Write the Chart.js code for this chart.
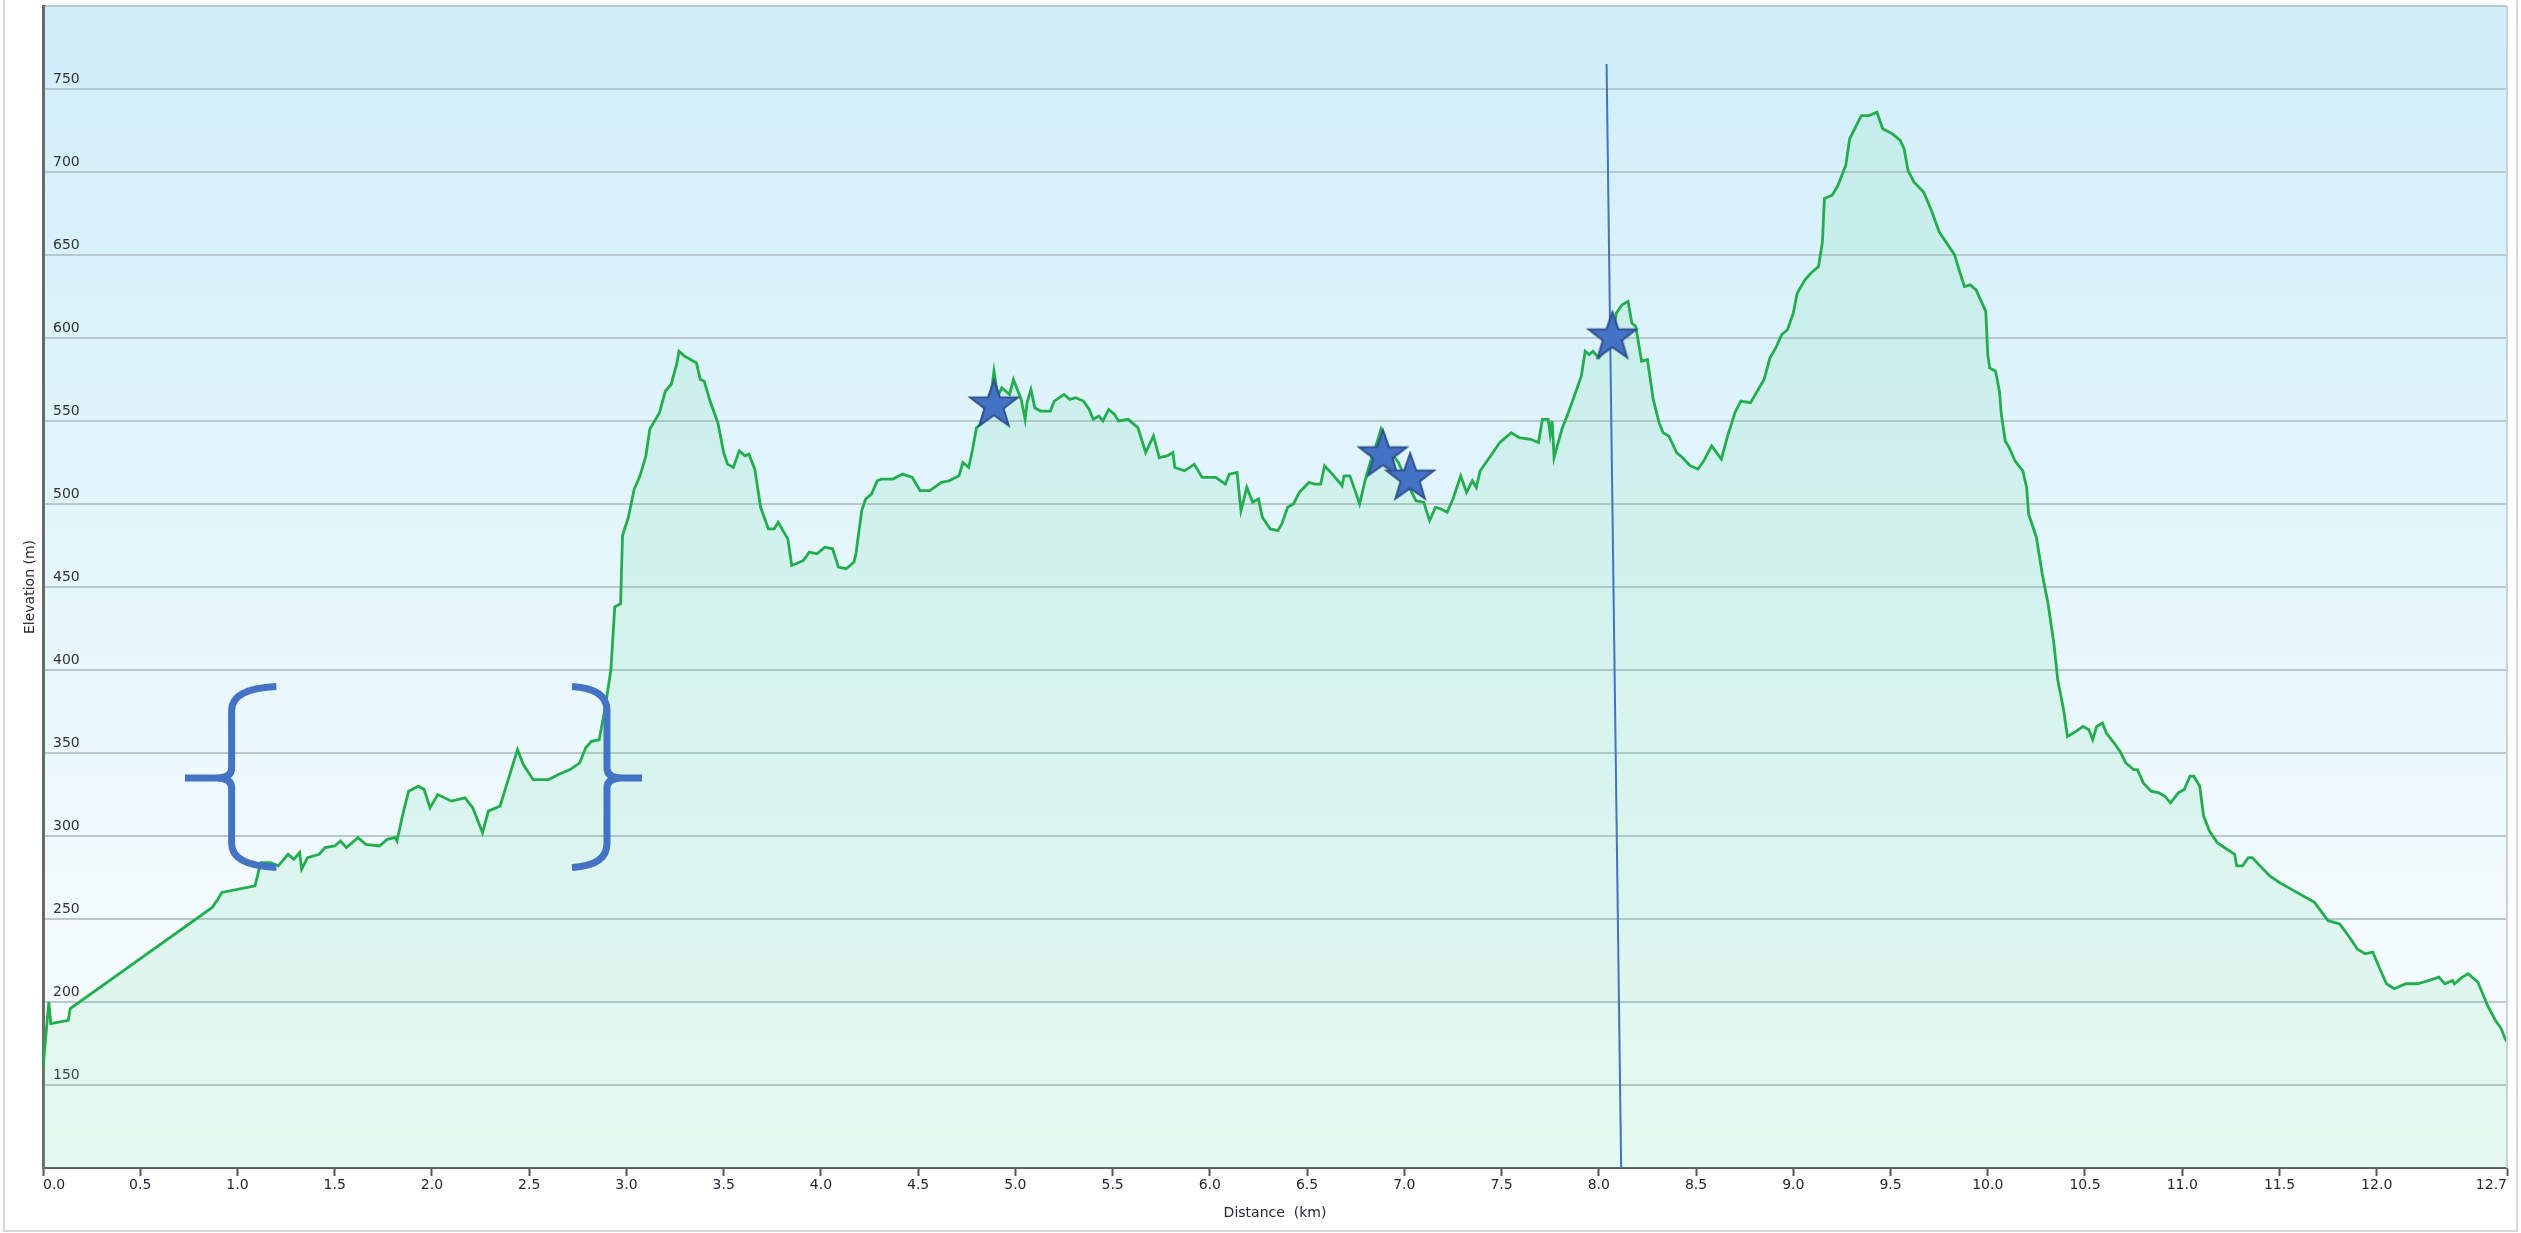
<!DOCTYPE html>
<html>
<head>
<meta charset="utf-8">
<title>Elevation profile</title>
<script src="https://cdn.jsdelivr.net/npm/chart.js@4.4.1/dist/chart.umd.min.js"></script>
<style>
  html, body { margin: 0; padding: 0; background: #fff; }
  #wrap { width: 2521px; height: 1233px; position: relative; }
</style>
</head>
<body>
<div id="wrap"><canvas id="profileChart"></canvas></div>
<script>
// track profile
var distanceKm = [
  0, 0.03, 0.04, 0.13, 0.14, 0.87, 0.90, 0.92, 1.09, 1.12, 1.17, 1.21, 1.26, 1.29, 1.32, 1.33, 1.36, 1.42, 1.45, 1.50,
  1.53, 1.56, 1.62, 1.66, 1.73, 1.77, 1.81, 1.82, 1.85, 1.88, 1.93, 1.96, 1.99, 2.03, 2.10, 2.17, 2.21, 2.26, 2.29, 2.35,
  2.40, 2.44, 2.47, 2.52, 2.60, 2.65, 2.71, 2.76, 2.79, 2.82, 2.86, 2.89, 2.92, 2.94, 2.97, 2.98, 3.01, 3.04, 3.07, 3.10,
  3.12, 3.17, 3.20, 3.23, 3.26, 3.27, 3.30, 3.36, 3.38, 3.40, 3.43, 3.47, 3.50, 3.52, 3.55, 3.58, 3.61, 3.63, 3.66, 3.69,
  3.73, 3.76, 3.78, 3.83, 3.85, 3.91, 3.94, 3.98, 4.02, 4.06, 4.09, 4.13, 4.17, 4.18, 4.21, 4.23, 4.26, 4.29, 4.31, 4.37,
  4.42, 4.47, 4.51, 4.56, 4.62, 4.66, 4.71, 4.73, 4.76, 4.78, 4.80, 4.83, 4.86, 4.89, 4.91, 4.93, 4.97, 4.99, 5.03, 5.05,
  5.06, 5.08, 5.10, 5.13, 5.18, 5.20, 5.25, 5.28, 5.31, 5.35, 5.38, 5.40, 5.43, 5.45, 5.48, 5.51, 5.53, 5.58, 5.63, 5.67,
  5.71, 5.74, 5.78, 5.81, 5.82, 5.87, 5.92, 5.96, 6.03, 6.08, 6.10, 6.14, 6.16, 6.19, 6.22, 6.25, 6.27, 6.31, 6.35, 6.37,
  6.40, 6.43, 6.46, 6.51, 6.54, 6.57, 6.59, 6.63, 6.68, 6.69, 6.72, 6.75, 6.77, 6.80, 6.83, 6.87, 6.88, 6.93, 6.97, 7.03,
  7.06, 7.10, 7.13, 7.16, 7.19, 7.22, 7.25, 7.29, 7.32, 7.35, 7.37, 7.39, 7.45, 7.49, 7.55, 7.59, 7.65, 7.69, 7.71, 7.74,
  7.75, 7.76, 7.77, 7.81, 7.84, 7.88, 7.91, 7.93, 7.95, 7.97, 8.00, 8.04, 8.07, 8.09, 8.12, 8.15, 8.17, 8.19, 8.22, 8.25,
  8.28, 8.31, 8.33, 8.36, 8.40, 8.43, 8.47, 8.51, 8.54, 8.58, 8.63, 8.66, 8.70, 8.73, 8.78, 8.82, 8.85, 8.88, 8.91, 8.94,
  8.97, 9.00, 9.02, 9.06, 9.09, 9.13, 9.15, 9.16, 9.20, 9.23, 9.27, 9.29, 9.32, 9.35, 9.39, 9.43, 9.46, 9.51, 9.55, 9.57,
  9.59, 9.62, 9.67, 9.71, 9.75, 9.79, 9.83, 9.85, 9.88, 9.91, 9.94, 9.99, 10.00, 10.01, 10.04, 10.06, 10.07, 10.09, 10.11, 10.14,
  10.18, 10.20, 10.21, 10.25, 10.28, 10.31, 10.34, 10.36, 10.39, 10.41, 10.44, 10.49, 10.52, 10.54, 10.56, 10.59, 10.61, 10.65, 10.68, 10.71,
  10.75, 10.77, 10.80, 10.84, 10.88, 10.91, 10.94, 10.98, 11.01, 11.04, 11.06, 11.09, 11.11, 11.14, 11.18, 11.23, 11.27, 11.28, 11.31, 11.34,
  11.36, 11.40, 11.45, 11.50, 11.56, 11.62, 11.68, 11.75, 11.81, 11.86, 11.90, 11.94, 11.98, 12.02, 12.05, 12.09, 12.15, 12.21, 12.27, 12.32,
  12.35, 12.39, 12.40, 12.44, 12.47, 12.52, 12.57, 12.61, 12.64, 12.66, 12.67
];
var elevationM = [
  160, 200, 187, 189, 196, 257, 262, 266, 270, 284, 284, 282, 289, 286, 290, 280, 287, 289, 293, 294,
  297, 293, 299, 295, 294, 298, 299, 297, 313, 327, 330, 328, 317, 325, 321, 323, 317, 302, 315, 318,
  337, 352, 343, 334, 334, 337, 340, 344, 353, 357, 358, 377, 400, 438, 440, 481, 492, 509, 517, 529,
  545, 555, 568, 572, 585, 592, 589, 585, 575, 574, 562, 549, 531, 524, 522, 532, 529, 530, 521, 498,
  485, 485, 489, 479, 463, 466, 471, 470, 474, 473, 462, 461, 465, 470, 496, 503, 506, 514, 515, 515,
  518, 516, 508, 508, 513, 514, 517, 525, 522, 533, 546, 549, 553, 580, 565, 570, 566, 575, 563, 551,
  561, 569, 558, 556, 556, 562, 566, 563, 564, 562, 557, 551, 553, 550, 557, 554, 550, 551, 546, 531,
  541, 528, 529, 531, 522, 520, 524, 516, 516, 512, 518, 519, 496, 510, 501, 503, 492, 485, 484, 488,
  498, 500, 507, 513, 512, 512, 523, 518, 511, 517, 517, 507, 500, 515, 527, 541, 545, 531, 525, 509,
  502, 501, 490, 498, 497, 495, 503, 517, 507, 514, 510, 520, 530, 537, 543, 540, 539, 537, 551, 551,
  542, 550, 528, 545, 554, 567, 577, 592, 590, 592, 588, 594, 600, 615, 620, 622, 609, 607, 586, 587,
  563, 549, 543, 541, 531, 528, 523, 521, 526, 535, 527, 540, 555, 562, 561, 569, 575, 588, 594, 602,
  605, 615, 627, 635, 639, 643, 658, 684, 686, 692, 704, 720, 727, 734, 734, 736, 726, 723, 719, 714,
  701, 694, 688, 677, 664, 657, 650, 642, 631, 632, 629, 616, 590, 582, 580, 568, 554, 538, 534, 526,
  520, 510, 494, 480, 458, 440, 416, 394, 376, 360, 362, 366, 364, 358, 366, 368, 362, 356, 351, 344,
  340, 340, 332, 327, 326, 324, 320, 326, 328, 336, 336, 330, 312, 303, 296, 292, 289, 282, 282, 287,
  287, 282, 276, 272, 268, 264, 260, 249, 247, 239, 232, 229, 230, 219, 211, 208, 211, 211, 213, 215,
  211, 213, 211, 215, 217, 212, 198, 189, 184, 178, 176
];

var xTickValues = [0, 0.5, 1, 1.5, 2, 2.5, 3, 3.5, 4, 4.5, 5, 5.5, 6, 6.5, 7, 7.5, 8, 8.5, 9, 9.5, 10, 10.5, 11, 11.5, 12, 12.67];
var yTickLabels = [150, 200, 250, 300, 350, 400, 450, 500, 550, 600, 650, 700, 750];

// hand drawn marks on top of the profile
var starKm = [4.89, 6.89, 7.03, 8.07];
var starElev = [561, 531, 517, 602];
var cursorKm = [8.04, 8.115];
var cursorElev = [765, 100];
var bracketKm = [[0.73, 0.97, 1.20], [3.08, 2.90, 2.72]]; // point, bar, tips
var bracketElev = [281, 335, 390]; // bottom, middle, top

var blue = '#4472C4';

function makeStar(r) {
  var c = document.createElement('canvas');
  var s = Math.ceil(r * 2 + 6);
  c.width = s; c.height = s;
  var g = c.getContext('2d');
  var cx = s / 2, cy = s / 2 + r * 0.1;
  g.beginPath();
  for (var i = 0; i < 10; i++) {
    var rr = i % 2 === 0 ? r : r * 0.4;
    var a = -Math.PI / 2 + i * Math.PI / 5;
    var px = cx + rr * Math.cos(a), py = cy + rr * Math.sin(a);
    if (i === 0) g.moveTo(px, py); else g.lineTo(px, py);
  }
  g.closePath();
  g.fillStyle = blue;
  g.fill();
  g.lineWidth = 2;
  g.lineJoin = 'miter';
  g.strokeStyle = '#2F528F';
  g.stroke();
  return c;
}

var plotBackground = {
  id: 'plotBackground',
  beforeDraw: function (chart) {
    var ctx = chart.ctx, a = chart.chartArea;
    ctx.save();
    var grad = ctx.createLinearGradient(0, a.top, 0, a.bottom);
    grad.addColorStop(0, '#d0eef9');
    grad.addColorStop(1, '#fbfeff');
    ctx.fillStyle = grad;
    ctx.fillRect(a.left, a.top, a.right - a.left, a.bottom - a.top);
    // outer frame of the screenshot
    ctx.strokeStyle = '#d6d6d6';
    ctx.lineWidth = 2;
    ctx.strokeRect(4, -4, 2513, 1235);
    ctx.restore();
  },
  afterDraw: function (chart) {
    var ctx = chart.ctx, a = chart.chartArea;
    ctx.save();
    ctx.strokeStyle = '#c9d2d6';
    ctx.lineWidth = 2;
    ctx.beginPath();
    ctx.moveTo(a.right, a.top);
    ctx.lineTo(a.right, a.bottom);
    ctx.stroke();
    ctx.restore();
  }
};

var brackets = {
  id: 'brackets',
  afterDatasetsDraw: function (chart) {
    var ctx = chart.ctx;
    var xs = chart.scales.x, ys = chart.scales.y;
    var bot = ys.getPixelForValue(bracketElev[0]);
    var mid = ys.getPixelForValue(bracketElev[1]);
    var top = ys.getPixelForValue(bracketElev[2]);
    ctx.save();
    ctx.strokeStyle = blue;
    ctx.lineWidth = 7;
    ctx.lineCap = 'butt';
    ctx.lineJoin = 'round';
    bracketKm.forEach(function (b) {
      var pt = xs.getPixelForValue(b[0]);
      var bar = xs.getPixelForValue(b[1]);
      var tip = xs.getPixelForValue(b[2]);
      var dir = tip > bar ? 1 : -1;
      var r = 24, r2 = 10;
      ctx.beginPath();
      ctx.moveTo(tip, top);
      ctx.quadraticCurveTo(bar, top + 2, bar, top + r);
      ctx.lineTo(bar, mid - r2);
      ctx.quadraticCurveTo(bar, mid, bar - dir * r2 * 1.5, mid);
      ctx.lineTo(pt, mid);
      ctx.moveTo(bar - dir * r2 * 1.5, mid);
      ctx.quadraticCurveTo(bar, mid, bar, mid + r2);
      ctx.lineTo(bar, bot - r);
      ctx.quadraticCurveTo(bar, bot - 2, tip, bot);
      ctx.stroke();
    });
    ctx.restore();
  }
};

var profile = distanceKm.map(function (d, i) { return { x: d, y: elevationM[i] }; });
var stars = starKm.map(function (d, i) { return { x: d, y: starElev[i] }; });
var cursor = cursorKm.map(function (d, i) { return { x: d, y: cursorElev[i] }; });

var tickFont = { family: 'DejaVu Sans', size: 14 };

var ctx = document.getElementById('profileChart').getContext('2d');
var myChart = new Chart(ctx, {
  type: 'line',
  data: {
    datasets: [
      {
        data: stars,
        showLine: false,
        pointStyle: makeStar(25),
        pointRadius: 25,
        order: 0
      },
      {
        data: cursor,
        borderColor: blue,
        borderWidth: 2,
        pointRadius: 0,
        fill: false,
        order: 1
      },
      {
        data: profile,
        borderColor: '#22ad4e',
        borderWidth: 2.8,
        backgroundColor: 'rgba(100, 220, 150, 0.14)',
        fill: 'start',
        pointRadius: 0,
        tension: 0,
        order: 2
      }
    ]
  },
  options: {
    responsive: true,
    maintainAspectRatio: false,
    animation: false,
    layout: { autoPadding: false, padding: { top: 6, right: 14, left: 0, bottom: 0 } },
    plugins: {
      legend: { display: false },
      tooltip: { enabled: false }
    },
    scales: {
      x: {
        type: 'linear',
        min: 0,
        max: 12.67,
        afterBuildTicks: function (scale) {
          scale.ticks = xTickValues.map(function (v) { return { value: v }; });
        },
        afterFit: function (scale) {
          scale.height = 65;
          scale.paddingLeft = 0;
          scale.paddingRight = 0;
        },
        ticks: {
          align: 'inner',
          padding: 1,
          color: '#262638',
          font: tickFont,
          maxRotation: 0,
          autoSkip: false,
          callback: function (v) { return Number(v).toFixed(1); }
        },
        grid: {
          drawOnChartArea: false,
          drawTicks: true,
          tickLength: 8,
          tickColor: '#555',
          tickWidth: 2
        },
        border: { display: true, color: '#5a5a5a', width: 2 },
        title: {
          display: true,
          text: 'Distance  (km)',
          color: '#262638',
          font: tickFont,
          padding: { top: 0, bottom: 11 }
        }
      },
      y: {
        min: 100,
        max: 800,
        afterFit: function (scale) {
          scale.width = 43;
          scale.paddingTop = 0;
          scale.paddingBottom = 0;
        },
        ticks: {
          stepSize: 50,
          mirror: true,
          padding: 10,
          labelOffset: -10,
          color: '#333',
          font: tickFont,
          callback: function (v) { return yTickLabels.indexOf(v) >= 0 ? String(v) : ''; }
        },
        grid: { color: '#b9c8cd', lineWidth: 2, drawTicks: false },
        border: { display: true, color: '#6a6a6a', width: 3 },
        title: {
          display: true,
          text: 'Elevation (m)',
          color: '#262638',
          font: tickFont,
          padding: { top: 22, bottom: 0 }
        }
      }
    }
  },
  plugins: [plotBackground, brackets]
});
</script>
</body>
</html>
